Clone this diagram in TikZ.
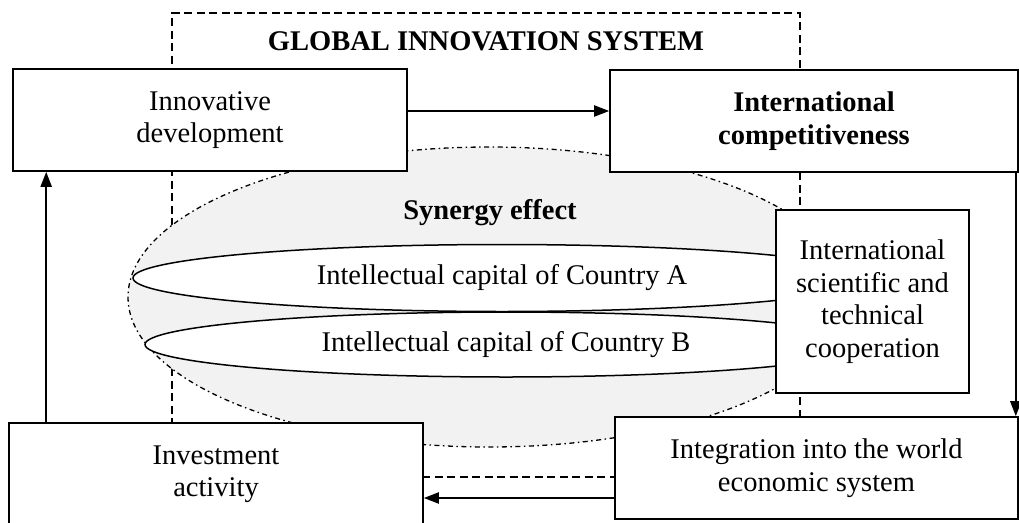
\documentclass[tikz,border=0pt]{standalone}
\usepackage{fontspec}
\setmainfont{Liberation Serif}
\usetikzlibrary{arrows.meta,shapes.geometric}
\definecolor{synfill}{HTML}{F2F2F2}
\begin{document}
\begin{tikzpicture}[x=1pt,y=-1pt,
  every node/.style={font=\fontsize{28.5}{32.5}\selectfont, align=center, inner sep=0pt},
  box/.style={draw, rectangle, line width=1.6pt, fill=white},
  arr/.style={line width=2.1pt, -{Triangle[length=15pt,width=11pt]}},
  sysframe/.style={draw, rectangle, line width=1.5pt, dash pattern=on 8pt off 4.5pt},
  synergy/.style={ellipse, draw, line width=1.3pt, fill=synfill,
    dash pattern=on 5pt off 3.5pt on 1.5pt off 3.5pt},
  capital/.style={ellipse, draw, line width=1.5pt, fill=white},
  heading/.style={font=\fontsize{28.5}{32.5}\selectfont\bfseries}]
\useasboundingbox (0,0) rectangle (1019,522);

% frame of the global innovation system
\node[sysframe, minimum width=628pt, minimum height=464pt] (gis) at (486,245) {};

% synergy zone with the two national capitals
\node[synergy, minimum width=722pt, minimum height=300pt] (syn) at (489,297) {};
\node[capital, minimum width=738pt, minimum height=67pt] (capA) at (502,278)
  {Intellectual capital of Country A};
\node[capital, minimum width=722pt, minimum height=65pt] (capB) at (506,344.5)
  {Intellectual capital of Country B};

% headings
\node[heading] (title) at (486,41.5) {GLOBAL INNOVATION SYSTEM};
\node[heading] (syntitle) at (490,213) {Synergy effect};

% boxes
\node[box, minimum width=394pt, minimum height=102pt] (innov) at (210,120)
  {Innovative\\development};
\node[box, minimum width=408pt, minimum height=102pt] (compet) at (814,121)
  {\textbf{International}\\\textbf{competitiveness}};
\node[box, minimum width=193pt, minimum height=183pt] (coop) at (872.5,301.5)
  {International\\scientific and\\technical\\cooperation};
\node[box, minimum width=403pt, minimum height=102pt] (integ) at (816.5,468)
  {Integration into the world\\economic system};
\node[box, minimum width=414pt, minimum height=102pt] (invest) at (216,474)
  {Investment\\activity};

% flows
\draw[arr] ([yshift=9pt]innov.east) -- ([yshift=10pt]compet.west);
\draw[arr] ([xshift=-3pt]compet.south east) -- ([xshift=-3pt]integ.north east);
\draw[arr] ([yshift=-30pt]integ.west) -- ([yshift=-30pt]integ.west -| invest.east);
\draw[arr] ([xshift=38pt]invest.north west) -- ([xshift=38pt]invest.north west |- innov.south);
\end{tikzpicture}
\end{document}
